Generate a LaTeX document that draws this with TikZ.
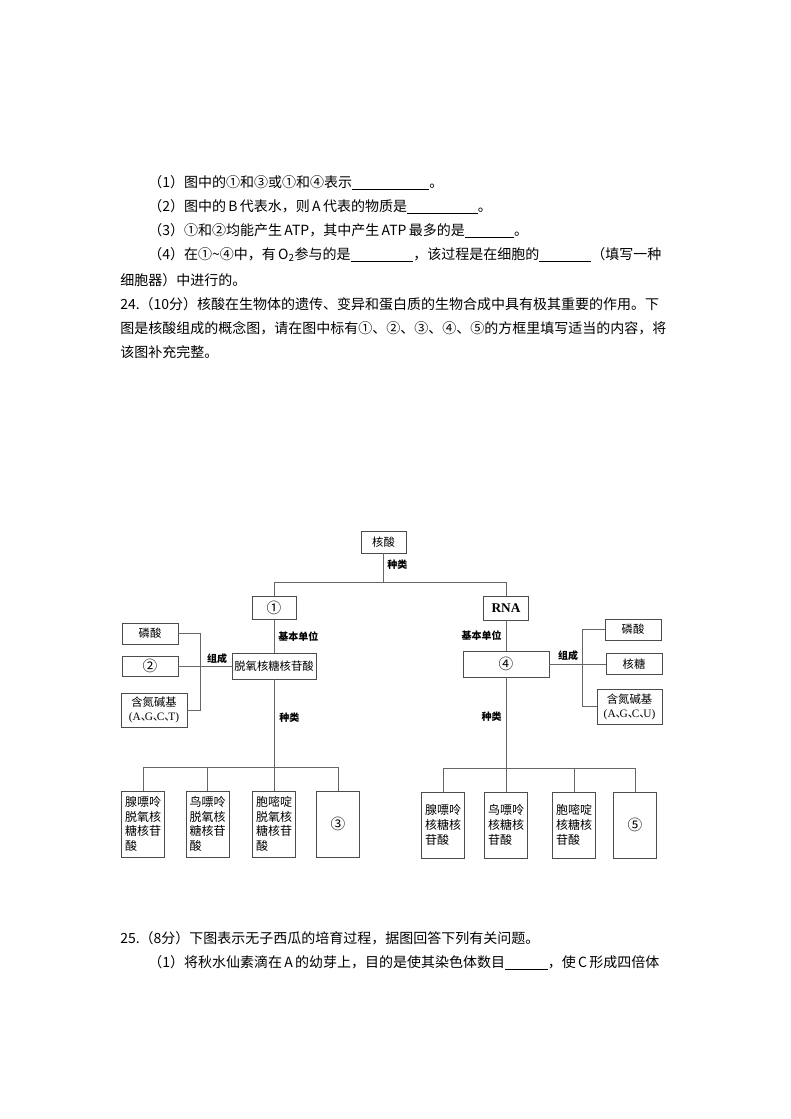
\documentclass[tikz,border=0pt]{standalone}
\usepackage{fontspec}
\setmainfont{Noto Sans CJK SC}
\newfontfamily\serifx{Liberation Serif}
\newcommand\ansline[1]{\underline{\hspace{#1}}}
\newcommand\dun{\makebox[0.35em][l]{\normalfont 、}}
\begin{document}
\begin{tikzpicture}[
   x=0.75pt, y=-0.75pt,
   txt/.style={anchor=west, inner sep=0pt, font=\fontsize{10.5pt}{12pt}\selectfont},
   cbox/.style={draw=black!70, line width=0.7pt, inner sep=0pt, font=\fontsize{8.5pt}{10.5pt}\selectfont},
   kbox/.style={cbox, minimum width=32.25pt, minimum height=49.5pt, align=left, font=\fontsize{9pt}{11pt}\selectfont},
   tag/.style={inner sep=0pt, font=\fontsize{7.5pt}{8pt}\selectfont\bfseries},
   link/.style={draw=black!60, line width=0.6pt},
   sz/.style 2 args={minimum width=#1*0.75pt, minimum height=#2*0.75pt},
   num/.style={font=\fontsize{11pt}{12pt}\selectfont},
   ]
   % page
   \useasboundingbox[fill=white] (0,0) rectangle (790,1119);

   % question text
   \node[txt] (q1) at (148,183) {（1）图中的①和③或①和④表示\ansline{58pt}。};
   \node[txt] (q2) at (148,207) {（2）图中的\,B\,代表水，则\,A\,代表的物质是\ansline{53pt}。};
   \node[txt] (q3) at (148,231) {（3）①和②均能产生\,ATP，其中产生\,ATP\,最多的是\ansline{37pt}。};
   \node[txt] (q4) at (148,255) {（4）在①\textasciitilde④中，有\,O\textsubscript{2}参与的是\ansline{47pt}，该过程是在细胞的\ansline{39pt}（填写一种};
   \node[txt] (q5) at (120,280) {细胞器）中进行的。};
   \node[txt] (q6) at (120,304) {24.（10分）核酸在生物体的遗传、变异和蛋白质的生物合成中具有极其重要的作用。下};
   \node[txt] (q7) at (120,328) {图是核酸组成的概念图，请在图中标有①、②、③、④、⑤的方框里填写适当的内容，将};
   \node[txt] (q8) at (120,352) {该图补充完整。};
   \node[txt] (q9) at (120,938) {25.（8分）下图表示无子西瓜的培育过程，据图回答下列有关问题。};
   \node[txt] (q10) at (148,963) {（1）将秋水仙素滴在\,A\,的幼芽上，目的是使其染色体数目\ansline{32pt}，使\,C\,形成四倍体};

   % concept map: top part
   \node[cbox, sz={45}{22}] (acid) at (383.5,542) {核酸};
   \node[cbox, sz={44}{23}, num] (dna) at (274,607.5) {①};
   \node[cbox, sz={45}{24}, font=\serifx\bfseries\fontsize{10pt}{12pt}\selectfont] (rna) at (506,608) {RNA};
   \node[cbox, sz={84}{26}] (dnt) at (274,666) {脱氧核糖核苷酸};
   \node[cbox, sz={86}{26}, num] (rnt) at (506,664) {④};

   % parts of the DNA unit
   \node[cbox, sz={56}{21}] (lphos) at (150,633.5) {磷酸};
   \node[cbox, sz={56}{20}, num] (lsugar) at (150,666) {②};
   \node[cbox, sz={66}{34}, align=center] (lbase) at (154,710) {含氮碱基\\{\serifx(A\dun G\dun C\dun T)}};

   % parts of the RNA unit
   \node[cbox, sz={56}{21}] (rphos) at (633,629.5) {磷酸};
   \node[cbox, sz={56}{21}] (rsugar) at (634,664) {核糖};
   \node[cbox, sz={65}{35}, align=center] (rbase) at (629.5,706.5) {含氮碱基\\{\serifx(A\dun G\dun C\dun U)}};

   % bus lines
   \coordinate (top) at (0,582);
   \coordinate (lbar) at (0,767);
   \coordinate (rbar) at (0,768);
   \coordinate (lfork) at (200,0);
   \coordinate (rfork) at (582,0);

   \draw[link] (acid.south) -- (acid.south |- top);
   \draw[link] (dna.north) -- (dna.north |- top) -- (rna.north |- top) -- (rna.north);
   \draw[link] (dna.south) -- (dnt.north);
   \draw[link] (rna.south) -- (rnt.north);
   \draw[link] (lphos.east) -- (lphos.east -| lfork) -- (lbase.east -| lfork) -- (lbase.east);
   \draw[link] (lsugar.east) -- (dnt.west);
   \draw[link] (rphos.west) -- (rphos.west -| rfork) -- (rbase.west -| rfork) -- (rbase.west);
   \draw[link] (rnt.east) -- (rsugar.west);

   % bottom boxes
   \foreach \n/\x/\t in {a/143/{腺嘌呤\\脱氧核\\糖核苷\\酸}, b/207.5/{鸟嘌呤\\脱氧核\\糖核苷\\酸}, c/274/{胞嘧啶\\脱氧核\\糖核苷\\酸}}
   \node[kbox] (dkind\n) at (\x,824) {\t};
   \node[kbox, num] (dkindd) at (338,824) {③};
   \foreach \n/\x/\t in {a/443/{腺嘌呤\\核糖核\\苷酸}, b/506/{鸟嘌呤\\核糖核\\苷酸}, c/574/{胞嘧啶\\核糖核\\苷酸}}
   \node[kbox] (rkind\n) at (\x,825) {\t};
   \node[kbox, num] (rkindd) at (635,825) {⑤};

   \draw[link] (dnt.south) -- (dkindc.north);
   \draw[link] (dkinda.north) -- (dkinda.north |- lbar) -- (dkindd.north |- lbar) -- (dkindd.north);
   \draw[link] (dkindb.north) -- (dkindb.north |- lbar);
   \draw[link] (rnt.south) -- (rkindb.north);
   \draw[link] (rkinda.north) -- (rkinda.north |- rbar) -- (rkindd.north |- rbar) -- (rkindd.north);
   \draw[link] (rkindc.north) -- (rkindc.north |- rbar);

   % labels on the lines
   \node[tag, anchor=west] (kind0) at (387,565) {种类};
   \node[tag, anchor=west] (unit1) at (278,637) {基本单位};
   \node[tag] (make1) at (217,659) {组成};
   \node[tag, anchor=west] (kind1) at (279,718) {种类};
   \node[tag, anchor=east] (unit2) at (502,636) {基本单位};
   \node[tag] (make2) at (568,656) {组成};
   \node[tag, anchor=east] (kind2) at (502,717) {种类};
\end{tikzpicture}
\end{document}
